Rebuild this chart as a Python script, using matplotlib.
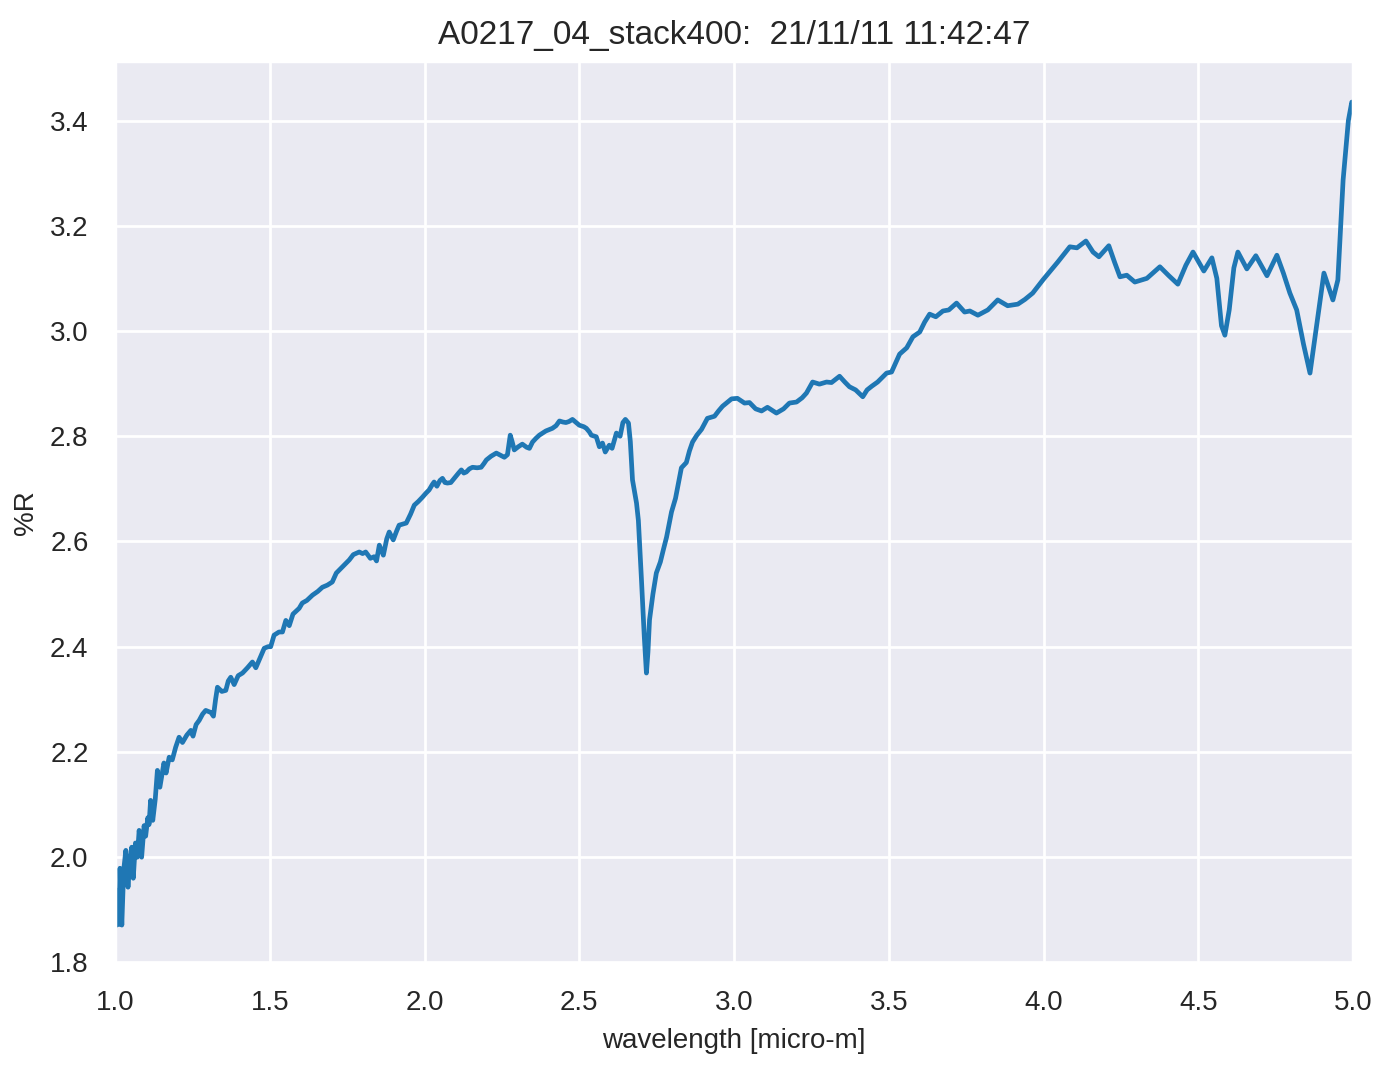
import numpy as np
import matplotlib
matplotlib.use("Agg")
import matplotlib.pyplot as plt
import seaborn as sns

# wavelength [micro-m] and reflectance [%R]
wavelength = [
    1.000, 1.003, 1.008, 1.012, 1.016, 1.022, 1.028, 1.035, 1.042, 1.048,
    1.054, 1.059, 1.066, 1.072, 1.078, 1.086, 1.094, 1.099, 1.106, 1.110,
    1.115, 1.122, 1.130, 1.137, 1.145, 1.158, 1.165, 1.175, 1.185, 1.196,
    1.207, 1.218, 1.232, 1.245, 1.252, 1.262, 1.272, 1.283, 1.293, 1.310,
    1.318, 1.325, 1.331, 1.345, 1.358, 1.366, 1.374, 1.385, 1.398, 1.412,
    1.428, 1.444, 1.455, 1.468, 1.482, 1.494, 1.503, 1.514, 1.530, 1.541,
    1.552, 1.563, 1.575, 1.595, 1.605, 1.620, 1.638, 1.655, 1.670, 1.686,
    1.702, 1.715, 1.735, 1.757, 1.770, 1.789, 1.800, 1.810, 1.825, 1.837,
    1.845, 1.854, 1.867, 1.878, 1.886, 1.899, 1.910, 1.918, 1.930, 1.941,
    1.955, 1.967, 1.980, 1.993, 2.005, 2.015, 2.025, 2.031, 2.040, 2.050,
    2.058, 2.066, 2.074, 2.085, 2.096, 2.110, 2.119, 2.127, 2.135, 2.145,
    2.155, 2.170, 2.183, 2.192, 2.200, 2.215, 2.232, 2.245, 2.258, 2.268,
    2.277, 2.283, 2.290, 2.303, 2.316, 2.330, 2.339, 2.349, 2.360, 2.371,
    2.392, 2.413, 2.425, 2.436, 2.447, 2.457, 2.467, 2.478, 2.490, 2.500,
    2.515, 2.523, 2.533, 2.539, 2.555, 2.565, 2.575, 2.584, 2.597, 2.606,
    2.620, 2.632, 2.641, 2.649, 2.659, 2.665, 2.672, 2.685, 2.691, 2.701,
    2.710, 2.717, 2.722, 2.727, 2.738, 2.749, 2.762, 2.772, 2.782, 2.798,
    2.811, 2.820, 2.830, 2.846, 2.856, 2.866, 2.880, 2.895, 2.914, 2.937,
    2.950, 2.963, 2.992, 3.011, 3.034, 3.050, 3.070, 3.089, 3.108, 3.137,
    3.160, 3.179, 3.202, 3.220, 3.234, 3.254, 3.276, 3.299, 3.315, 3.341,
    3.358, 3.373, 3.393, 3.416, 3.430, 3.445, 3.464, 3.493, 3.509, 3.535,
    3.558, 3.578, 3.600, 3.616, 3.632, 3.652, 3.675, 3.694, 3.719, 3.745,
    3.762, 3.788, 3.820, 3.852, 3.884, 3.917, 3.940, 3.965, 3.998, 4.046,
    4.085, 4.108, 4.137, 4.160, 4.179, 4.211, 4.230, 4.247, 4.269, 4.295,
    4.334, 4.376, 4.405, 4.434, 4.460, 4.483, 4.518, 4.544, 4.560, 4.575,
    4.586, 4.600, 4.615, 4.628, 4.657, 4.686, 4.722, 4.754, 4.775, 4.796,
    4.818, 4.840, 4.861, 4.880, 4.906, 4.935, 4.951, 4.968, 4.985, 4.996,
    5.000,
]
reflectance = [
    1.940, 1.870, 1.935, 1.872, 1.979, 1.871, 1.975, 2.013, 1.943, 1.990,
    2.019, 1.960, 2.027, 2.000, 2.051, 2.000, 2.060, 2.040, 2.075, 2.062,
    2.108, 2.070, 2.110, 2.165, 2.133, 2.179, 2.160, 2.190, 2.185, 2.209,
    2.228, 2.218, 2.232, 2.241, 2.230, 2.252, 2.260, 2.272, 2.279, 2.275,
    2.268, 2.300, 2.323, 2.315, 2.317, 2.335, 2.342, 2.328, 2.345, 2.350,
    2.360, 2.371, 2.360, 2.378, 2.397, 2.400, 2.400, 2.422, 2.428, 2.428,
    2.450, 2.440, 2.462, 2.473, 2.483, 2.488, 2.498, 2.505, 2.513, 2.517,
    2.523, 2.540, 2.552, 2.565, 2.575, 2.580, 2.577, 2.580, 2.568, 2.571,
    2.563, 2.593, 2.574, 2.605, 2.618, 2.603, 2.620, 2.631, 2.633, 2.635,
    2.652, 2.669, 2.676, 2.684, 2.692, 2.698, 2.708, 2.713, 2.705, 2.716,
    2.720, 2.712, 2.711, 2.712, 2.720, 2.730, 2.736, 2.730, 2.732, 2.738,
    2.741, 2.740, 2.741, 2.748, 2.755, 2.762, 2.768, 2.764, 2.760, 2.765,
    2.802, 2.790, 2.774, 2.780, 2.785, 2.779, 2.777, 2.789, 2.796, 2.802,
    2.810, 2.815, 2.820, 2.829, 2.827, 2.826, 2.828, 2.832, 2.826, 2.821,
    2.818, 2.815, 2.808, 2.802, 2.799, 2.780, 2.787, 2.770, 2.783, 2.777,
    2.806, 2.800, 2.826, 2.832, 2.825, 2.790, 2.717, 2.673, 2.640, 2.527,
    2.420, 2.350, 2.390, 2.451, 2.500, 2.540, 2.561, 2.585, 2.608, 2.656,
    2.682, 2.710, 2.740, 2.750, 2.772, 2.789, 2.802, 2.813, 2.834, 2.838,
    2.848, 2.857, 2.871, 2.872, 2.863, 2.864, 2.852, 2.848, 2.855, 2.844,
    2.852, 2.863, 2.865, 2.873, 2.882, 2.903, 2.899, 2.903, 2.902, 2.914,
    2.903, 2.894, 2.888, 2.875, 2.888, 2.895, 2.903, 2.920, 2.922, 2.956,
    2.968, 2.989, 2.998, 3.017, 3.032, 3.027, 3.038, 3.040, 3.053, 3.036,
    3.038, 3.030, 3.040, 3.059, 3.048, 3.051, 3.060, 3.072, 3.097, 3.131,
    3.160, 3.158, 3.171, 3.150, 3.141, 3.162, 3.130, 3.103, 3.106, 3.093,
    3.100, 3.122, 3.105, 3.089, 3.125, 3.150, 3.114, 3.139, 3.100, 3.010,
    2.992, 3.040, 3.120, 3.150, 3.118, 3.143, 3.105, 3.144, 3.110, 3.072,
    3.040, 2.975, 2.920, 3.000, 3.110, 3.059, 3.097, 3.287, 3.400, 3.435,
    3.430,
]

sns.set_theme(style="darkgrid")
plt.rcParams['font.family'] = ['Liberation Sans', 'DejaVu Sans']

fig = plt.figure(figsize=(6.97, 5.345), dpi=200)
ax = fig.add_axes([0.0825, 0.0982, 0.8881, 0.8447])
ax.plot(wavelength, reflectance, color='#1f77b4', linewidth=1.7)
ax.set_xlim(1.0, 5.0)
ax.set_ylim(1.797, 3.513)
ax.set_yticks(np.arange(1.8, 3.41, 0.2))
ax.set_xticks(np.arange(1.0, 5.01, 0.5))
ax.tick_params(labelsize=10)
ax.set_xlabel('wavelength [micro-m]', fontsize=10)
ax.set_ylabel('%R', fontsize=10)
ax.set_title('A0217_04_stack400:  21/11/11 11:42:47', fontsize=12)

fig.savefig('out.png', dpi=200)
